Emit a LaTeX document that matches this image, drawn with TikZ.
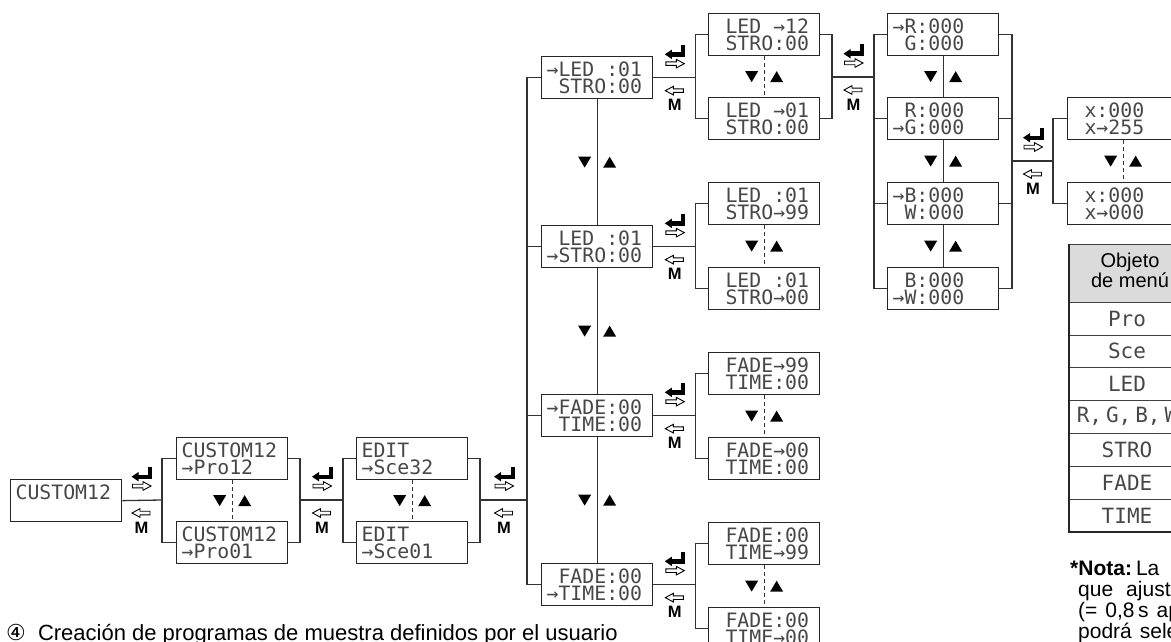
\documentclass[tikz,border=0pt]{standalone}
\usepackage{fontspec}
\setmainfont{Liberation Sans}
\newfontfamily\lcd{DejaVu Sans Mono}
\newfontfamily\symf{DejaVu Sans}
\newcommand\lcdf{\lcd\fontsize{19.8}{16.8}\selectfont}
\newcommand\lcdsp{\hphantom{0}}
\usetikzlibrary{calc}
\definecolor{hdr}{gray}{0.86}
\colorlet{boxc}{black!85}
\colorlet{linec}{black!80}
\colorlet{lcdc}{black!72}
\tikzset{
 lcdbox/.style={draw=boxc, line width=1.3, anchor=north west, minimum height=42,
   text width=101, inner xsep=5, inner ysep=0, align=left, font=\lcdf, text=lcdc},
 conn/.style={draw=linec, line width=1.3},
 dashl/.style={draw=linec, line width=1.2, dash pattern=on 4 off 3},
 keys/.pic={
  \fill (7,-33) rectangle (11,-21);
  \fill (-3,-25.5) rectangle (11,-21);
  \fill (-9.5,-23.3) -- (-2.5,-28) -- (-2.5,-18.6) -- cycle;
  \draw[line width=0.9, fill=white] (-8.5,-15.8) -- (2,-15.8) -- (2,-18.3) -- (10,-14) -- (2,-9.7) -- (2,-12.2) -- (-8.5,-12.2) -- cycle;
  \draw[line width=0.9, fill=white] (9,11.2) -- (-1,11.2) -- (-1,8.7) -- (-9,13) -- (-1,17.3) -- (-1,14.8) -- (9,14.8) -- cycle;
  \node[inner sep=0, font=\bfseries\fontsize{16.5}{16.5}\selectfont] (-m) at (0.5,27.5) {M};
 },
 ud/.pic={
  \fill (-19,-5.5) -- (-6,-5.5) -- (-12.5,5.5) -- cycle;
  \fill (6,5.5) -- (19,5.5) -- (12.5,-5.5) -- cycle;
 },
}
\begin{document}
\begin{tikzpicture}[x=1pt,y=-1pt]
\useasboundingbox (0,0) rectangle (1171,642);
\clip (0,0) rectangle (1171,642);

% ---- boxes
\node[lcdbox] (c0) at (10,479) {CUSTOM12\\\mbox{}};
\node[lcdbox] (ca) at (176,437) {CUSTOM12\\→Pro12};
\node[lcdbox] (cb) at (176,521) {CUSTOM12\\→Pro01};
\node[lcdbox] (ea) at (356,437) {EDIT\\→Sce32};
\node[lcdbox] (eb) at (356,521) {EDIT\\→Sce01};
\node[lcdbox] (m1) at (541,56) {→LED\lcdsp:01\\\lcdsp STRO:00};
\node[lcdbox] (m2) at (541,225) {\lcdsp LED\lcdsp:01\\→STRO:00};
\node[lcdbox] (m3) at (541,394) {→FADE:00\\\lcdsp TIME:00};
\node[lcdbox] (m4) at (541,563) {\lcdsp FADE:00\\→TIME:00};
\node[lcdbox] (la) at (708,13) {\lcdsp LED\lcdsp→12\\\lcdsp STRO:00};
\node[lcdbox] (lb) at (708,97) {\lcdsp LED\lcdsp→01\\\lcdsp STRO:00};
\node[lcdbox] (sa) at (708,182) {\lcdsp LED\lcdsp:01\\\lcdsp STRO→99};
\node[lcdbox] (sb) at (708,267) {\lcdsp LED\lcdsp:01\\\lcdsp STRO→00};
\node[lcdbox] (fa) at (708,352) {\lcdsp FADE→99\\\lcdsp TIME:00};
\node[lcdbox] (fb) at (708,437) {\lcdsp FADE→00\\\lcdsp TIME:00};
\node[lcdbox] (ta) at (708,522) {\lcdsp FADE:00\\\lcdsp TIME→99};
\node[lcdbox] (tb) at (708,607) {\lcdsp FADE:00\\\lcdsp TIME→00};
\node[lcdbox] (r1) at (887,13) {→R:000\\\lcdsp G:000};
\node[lcdbox] (r2) at (887,97) {\lcdsp R:000\\→G:000};
\node[lcdbox] (r3) at (887,182) {→B:000\\\lcdsp W:000};
\node[lcdbox] (r4) at (887,267) {\lcdsp B:000\\→W:000};
\node[lcdbox] (xa) at (1067,97) {\lcdsp x:000\\\lcdsp x→255};
\node[lcdbox] (xb) at (1067,182) {\lcdsp x:000\\\lcdsp x→000};

% ---- CUSTOM / EDIT chain
\coordinate (j1) at (162,500);
\coordinate (k1r) at (300,500);
\coordinate (j2) at (343,500);
\coordinate (k2r) at (480,500);
\coordinate (j3) at (527,500);
\draw[conn] (c0.east) -- (j1);
\draw[conn] (ca.west) -| (j1) |- (cb.west);
\draw[conn] (ca.east) -| (k1r) |- (cb.east);
\draw[conn] (k1r) -- (j2);
\draw[conn] (ea.west) -| (j2) |- (eb.west);
\draw[conn] (ea.east) -| (k2r) |- (eb.east);
\draw[conn] (k2r) -- (j3);
\draw[dashl] (ca.south) -- (cb.north);
\draw[dashl] (ea.south) -- (eb.north);
\pic at ($(ca.south)!0.5!(cb.north)$) {ud};
\pic at ($(ea.south)!0.5!(eb.north)$) {ud};
\pic (k1) at (141,500) {keys};
\pic (k2) at (321.5,500) {keys};
\pic (k3) at (503.5,500) {keys};

% ---- main column
\draw[conn] (m1.west) -| (j3) |- (m4.west);
\draw[conn] (m2.west) -- (m2.west -| j3);
\draw[conn] (m3.west) -- (m3.west -| j3);
\draw[conn] (m1.south) -- (m2.north);
\draw[conn] (m2.south) -- (m3.north);
\draw[conn] (m3.south) -- (m4.north);
\pic at ($(m1.south)!0.5!(m2.north)$) {ud};
\pic at ($(m2.south)!0.5!(m3.north)$) {ud};
\pic at ($(m3.south)!0.5!(m4.north)$) {ud};

\foreach \m/\a/\b in {m1/la/lb, m2/sa/sb, m3/fa/fb, m4/ta/tb}{
  \coordinate (J\m) at ([xshift=42]\m.east);
  \draw[conn] (\m.east) -- (J\m);
  \draw[conn] (\a.west) -| (J\m) |- (\b.west);
  \draw[dashl] (\a.south) -- (\b.north);
  \pic at ($(\a.south)!0.5!(\b.north)$) {ud};
  \pic (K\m) at ([xshift=21]\m.east) {keys};
}

% ---- LED -> RGBW
\coordinate (lr) at (832,77);
\coordinate (rj) at (874,77);
\draw[conn] (la.east) -| (lr) |- (lb.east);
\draw[conn] (lr) -- (rj);
\draw[conn] (r1.west) -| (rj) |- (r4.west);
\draw[conn] (r2.west) -- (r2.west -| rj);
\draw[conn] (r3.west) -- (r3.west -| rj);
\draw[conn] (r1.south) -- (r2.north);
\draw[conn] (r2.south) -- (r3.north);
\draw[conn] (r3.south) -- (r4.north);
\pic at ($(r1.south)!0.5!(r2.north)$) {ud};
\pic at ($(r2.south)!0.5!(r3.north)$) {ud};
\pic at ($(r3.south)!0.5!(r4.north)$) {ud};
\pic (k4) at (853,77) {keys};

% ---- RGBW -> x
\coordinate (rr) at (1012,161);
\coordinate (xj) at (1053,161);
\draw[conn] (r1.east) -| (rr) |- (r4.east);
\draw[conn] (r2.east) -- (r2.east -| rr);
\draw[conn] (r3.east) -- (r3.east -| rr);
\draw[conn] (rr) -- (xj);
\draw[conn] (xa.west) -| (xj) |- (xb.west);
\draw[dashl] (xa.south) -- (xb.north);
\pic at ($(xa.south)!0.5!(xb.north)$) {ud};
\pic (k5) at (1032.5,161) {keys};

% ---- table
\fill[hdr] (1069,244) rectangle (1200,302);
\draw[line width=0.9, black!75] (1069,244) -- (1200,244);
\foreach \yy in {302,335,367,400,433,466,499}
  \draw[line width=0.9, black!75] (1069,\yy) -- (1200,\yy);
\draw[line width=1.8, black!85] (1069,243.5) -- (1069,532) -- (1200,532);
\node[inner sep=0, align=center, font=\fontsize{20}{18}\selectfont] (th) at (1130,270) {Objeto\\de menú};
\foreach \t/\yc [count=\i] in {Pro/318.5, Sce/351, LED/383.5, {R,\kern4pt G,\kern4pt B,\kern4pt W}/416.5, STRO/449.5, FADE/482.5, TIME/515.5}
  \node[inner sep=0, text=lcdc, font=\lcd\fontsize{21}{21}\selectfont] (t\i) at (1127,\yc) {\t};

% ---- note
\node[anchor=base west, inner sep=0, font=\fontsize{21}{21}\selectfont] (n1) at (1070,575) {\textbf{*Nota:}\hspace{4pt}La};
\node[anchor=base west, inner sep=0, font=\fontsize{21}{21}\selectfont] (n2) at (1078,596) {que\hspace{13pt}ajust};
\node[anchor=base west, inner sep=0, font=\fontsize{21}{21}\selectfont] (n3) at (1078,617) {(=\hspace{8pt}0,8\,s\hspace{8pt}ap};
\node[anchor=base west, inner sep=0, font=\fontsize{21}{21}\selectfont] (n4) at (1078,638) {podrá\hspace{8pt}sele};

% ---- caption
\node[anchor=base west, inner sep=0, font=\fontsize{22}{24}\selectfont] (cap) at (6,640) {{\symf ④}\hspace{0.55em}Creación de programas de muestra definidos por el usuario};
\end{tikzpicture}
\end{document}
